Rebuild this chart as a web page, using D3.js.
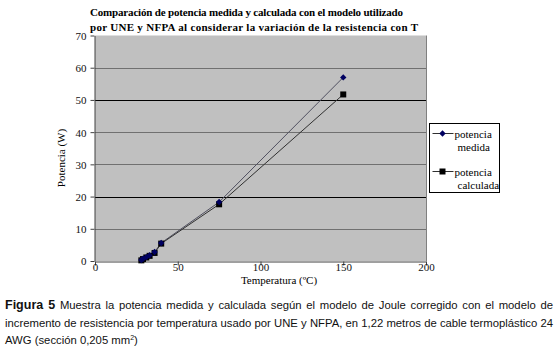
<!DOCTYPE html>
<html lang="es">
<head>
<meta charset="UTF-8">
<title>Potencia medida y calculada</title>
<style>
    body { margin: 0; background: #fff; }
    .caption {
        position: absolute;
        left: 5px;
        top: 297px;
        width: 548px;
        font-family: 'Liberation Sans', Arial, sans-serif;
        font-size: 11.3px;
        color: #111;
    }
    .caption div {
        height: 17.5px;
        line-height: 17.5px;
        text-align: justify;
        text-align-last: justify;
        white-space: nowrap;
    }
    .caption div.last { text-align-last: left; }
    .caption b { font-size: 12.5px; line-height: 10px; }
    .caption sup { font-size: 7px; line-height: 0; vertical-align: 4px; }
</style>
</head>
<body>

<svg width="558" height="295"></svg>

<div class="caption">
    <div><b>Figura 5</b> Muestra la potencia medida y calculada según el modelo de Joule corregido con el modelo de</div>
    <div>incremento de resistencia por temperatura usado por UNE y NFPA, en 1,22 metros de cable termoplástico 24</div>
    <div class="last">AWG (sección 0,205 mm<sup>2</sup>)</div>
</div>

<script src="https://d3js.org/d3.v7.min.js"></script>
<script>

    // Data
    const temperatura = [28, 29, 31, 33, 36, 40, 75, 150];
    const potenciaMedida = [0.3, 0.7, 1.2, 1.8, 2.8, 5.6, 18.3, 57.0];
    const potenciaCalculada = [0.2, 0.6, 1.1, 1.6, 2.5, 5.4, 17.6, 51.7];

    const seriesNames = ['potencia medida', 'potencia calculada'];
    const xTicks = [0, 50, 100, 150, 200];
    const yTicks = [0, 10, 20, 30, 40, 50, 60, 70];

    const titleLines = [
        'Comparación  de potencia medida  y calculada  con el modelo utilizado',
        'por UNE y NFPA al considerar  la variación  de la resistencia con T'
    ];

    const serif = "'Liberation Serif', 'Times New Roman', serif";

    const plot = { left: 95, right: 426, top: 35.5, bottom: 261 };

    const svg = d3.select('svg');

    const x = d3.scaleLinear().domain([0, 200]).range([plot.left, plot.right]);
    const y = d3.scaleLinear().domain([0, 70]).range([plot.bottom, plot.top]);

    // Title
    svg.selectAll('.title')
        .data(titleLines)
        .enter()
        .append('text')
        .attr('class', 'title')
        .attr('x', 90)
        .attr('y', function (d, i) { return 16 + i * 14.5; })
        .attr('textLength', function (d, i) { return i === 0 ? 313 : 328; })
        .attr('lengthAdjust', 'spacing')
        .style('font-family', serif)
        .style('font-size', '11px')
        .style('font-weight', 'bold')
        .text(function (d) { return d; });

    // Plot area
    svg.append('rect')
        .attr('x', plot.left)
        .attr('y', plot.top)
        .attr('width', plot.right - plot.left)
        .attr('height', plot.bottom - plot.top)
        .attr('fill', '#c0c0c0');

    // Gridlines (20 and 50 come out darker in the original)
    svg.append('g')
        .selectAll('line')
        .data(yTicks.filter(function (d) { return d > 0 && d < 70; }))
        .enter()
        .append('line')
        .attr('x1', plot.left)
        .attr('x2', plot.right)
        .attr('y1', function (d) { return Math.round(y(d)) + 0.5; })
        .attr('y2', function (d) { return Math.round(y(d)) + 0.5; })
        .attr('stroke', function (d) { return (d === 20 || d === 50) ? '#000' : '#707070'; })
        .attr('stroke-width', 1);

    // right border of plot area
    svg.append('line')
        .attr('x1', plot.right + 0.5).attr('x2', plot.right + 0.5)
        .attr('y1', plot.top).attr('y2', plot.bottom)
        .attr('stroke', '#808080');

    // Axes
    const xAxis = d3.axisBottom(x).tickValues(xTicks).tickSize(4).tickSizeOuter(0);
    const yAxis = d3.axisLeft(y).tickValues(yTicks).tickSize(4).tickSizeOuter(0);

    const gx = svg.append('g')
        .attr('transform', 'translate(0,' + (Math.round(plot.bottom) + 0.5) + ')')
        .call(xAxis);
    const gy = svg.append('g')
        .attr('transform', 'translate(' + (plot.left - 0.5) + ',0)')
        .call(yAxis);

    [gx, gy].forEach(function (g) {
        g.attr('font-family', serif).attr('font-size', 11);
        g.selectAll('.domain').attr('stroke', '#404040');
        g.selectAll('.tick line').attr('stroke', '#404040');
        g.selectAll('.tick text')
            .style('font-family', serif)
            .style('font-size', '11px')
            .attr('fill', '#111');
    });
    gx.selectAll('.tick text').attr('dy', '0.25em');
    gy.selectAll('.tick text').attr('x', -8).attr('dy', '0.35em');

    // Axis titles
    svg.append('text')
        .attr('x', 279)
        .attr('y', 284)
        .attr('text-anchor', 'middle')
        .style('font-family', serif)
        .style('font-size', '11px')
        .text('Temperatura  (ºC)');

    svg.append('text')
        .attr('transform', 'translate(65,158) rotate(-90)')
        .attr('text-anchor', 'middle')
        .style('font-family', serif)
        .style('font-size', '11px')
        .text('Potencia (W)');

    // Series
    const medida = temperatura.map(function (t, i) { return [t, potenciaMedida[i]]; });
    const calculada = temperatura.map(function (t, i) { return [t, potenciaCalculada[i]]; });

    const line = d3.line()
        .x(function (d) { return x(d[0]); })
        .y(function (d) { return y(d[1]); });

    svg.append('path')
        .datum(medida)
        .attr('d', line)
        .attr('fill', 'none')
        .attr('stroke', '#505060')
        .attr('stroke-width', 1);

    svg.append('path')
        .datum(calculada)
        .attr('d', line)
        .attr('fill', 'none')
        .attr('stroke', '#303030')
        .attr('stroke-width', 1);

    const diamond = d3.symbol().type(d3.symbolDiamond2).size(26);
    const square = d3.symbol().type(d3.symbolSquare).size(36);

    svg.append('g')
        .selectAll('path')
        .data(calculada)
        .enter()
        .append('path')
        .attr('d', square)
        .attr('transform', function (d) { return 'translate(' + x(d[0]) + ',' + y(d[1]) + ')'; })
        .attr('fill', '#000');

    svg.append('g')
        .selectAll('path')
        .data(medida)
        .enter()
        .append('path')
        .attr('d', diamond)
        .attr('transform', function (d) { return 'translate(' + x(d[0]) + ',' + y(d[1]) + ')'; })
        .attr('fill', '#000060');

    // Legend
    const legend = svg.append('g').attr('transform', 'translate(429.5,123.5)');

    legend.append('rect')
        .attr('width', 70)
        .attr('height', 69)
        .attr('fill', '#fff')
        .attr('stroke', '#000');

    const entries = legend.selectAll('.entry')
        .data(seriesNames)
        .enter()
        .append('g')
        .attr('transform', function (d, i) { return 'translate(0,' + (10 + i * 38) + ')'; });

    entries.append('line')
        .attr('x1', 3).attr('x2', 24)
        .attr('stroke', '#303030');

    entries.append('path')
        .attr('d', function (d, i) { return i === 0 ? diamond() : square(); })
        .attr('transform', 'translate(13,0)')
        .attr('fill', function (d, i) { return i === 0 ? '#000060' : '#000'; });

    entries.each(function (d) {
        const words = d.split(' ');
        d3.select(this).selectAll('text')
            .data(words)
            .enter()
            .append('text')
            .attr('x', function (w, j) { return j === 0 ? 25 : 28; })
            .attr('y', function (w, j) { return 4 + j * 13; })
            .style('font-family', serif)
            .style('font-size', '11px')
            .text(function (w) { return w; });
    });

</script>
</body>
</html>
